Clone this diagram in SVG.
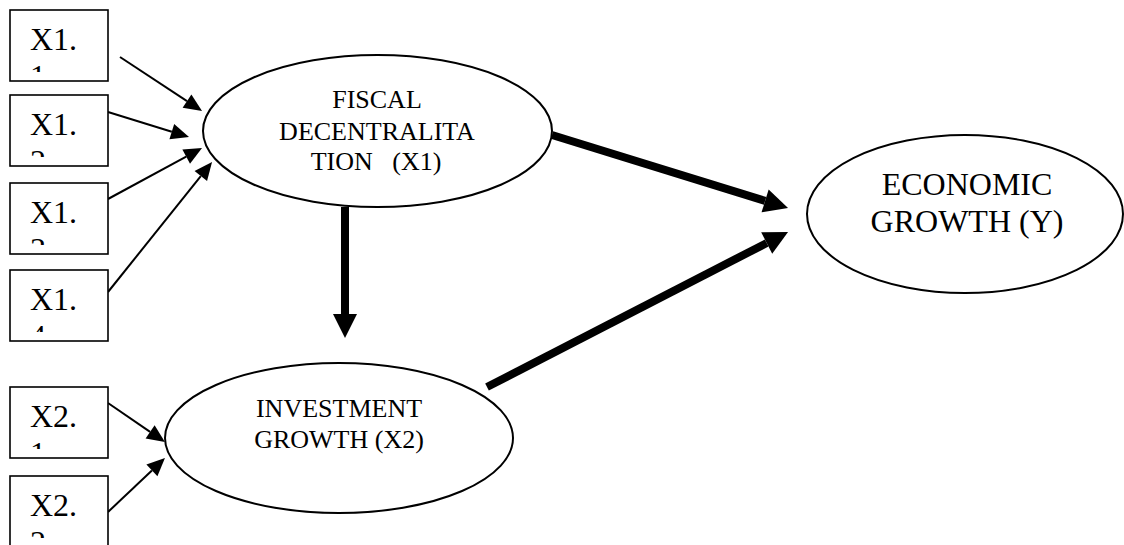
<svg xmlns="http://www.w3.org/2000/svg" width="1124" height="545" viewBox="0 0 1124 545">
  <style>
    .box { fill: #fff; stroke: #000; stroke-width: 1.6; }
    .ell { fill: #fff; stroke: #000; stroke-width: 2; }
    .bt { font-family: "Liberation Serif", "Times New Roman", serif; font-size: 32px; fill: #000; }
    .lt { font-family: "Liberation Serif", "Times New Roman", serif; font-size: 26px; fill: #000; text-anchor: middle; white-space: pre; }
    .yt { font-family: "Liberation Serif", "Times New Roman", serif; font-size: 32px; fill: #000; text-anchor: middle; }
    .thin { stroke: #000; stroke-width: 2; fill: none; marker-end: url(#ah); }
    .thick { stroke: #000; stroke-width: 8; fill: none; marker-end: url(#ahb); }
  </style>
  <defs>
    <clipPath id="bc" clipPathUnits="userSpaceOnUse">
      <rect x="0" y="0" width="98" height="62"/>
    </clipPath>
    <marker id="ah" markerUnits="userSpaceOnUse" markerWidth="18" markerHeight="16" refX="0" refY="8" orient="auto" overflow="visible">
      <path d="M0,0 L18,8 L0,16 z" fill="#000"/>
    </marker>
    <marker id="ahb" markerUnits="userSpaceOnUse" markerWidth="24" markerHeight="24" refX="0" refY="12" orient="auto" overflow="visible">
      <path d="M0,0 L24,12 L0,24 z" fill="#000"/>
    </marker>
  </defs>

  <g id="connectors">
    <line class="thin" x1="120" y1="57" x2="187" y2="101.1"/>
    <line class="thin" x1="108" y1="112" x2="171.8" y2="131.7"/>
    <line class="thin" x1="108" y1="199" x2="186.2" y2="156.6"/>
    <line class="thin" x1="108" y1="292" x2="200.8" y2="176.1"/>
    <line class="thin" x1="108" y1="403" x2="150.1" y2="431.8"/>
    <line class="thin" x1="108" y1="512" x2="151.9" y2="470.4"/>
    <line class="thick" x1="552" y1="135" x2="765.1" y2="200.9"/>
    <line class="thick" x1="345" y1="207" x2="345" y2="314"/>
    <line class="thick" x1="487" y1="387" x2="766.7" y2="243"/>
  </g>

  <g id="x1_1" transform="translate(10,10)">
    <rect class="box" x="0" y="0" width="98" height="71"/>
    <text class="bt" clip-path="url(#bc)"><tspan x="20" y="40">X1.</tspan><tspan x="20" y="77">1</tspan></text>
  </g>
  <g id="x1_2" transform="translate(10,95)">
    <rect class="box" x="0" y="0" width="98" height="71"/>
    <text class="bt" clip-path="url(#bc)"><tspan x="20" y="40">X1.</tspan><tspan x="20" y="77">2</tspan></text>
  </g>
  <g id="x1_3" transform="translate(10,183)">
    <rect class="box" x="0" y="0" width="98" height="71"/>
    <text class="bt" clip-path="url(#bc)"><tspan x="20" y="40">X1.</tspan><tspan x="20" y="77">3</tspan></text>
  </g>
  <g id="x1_4" transform="translate(10,270)">
    <rect class="box" x="0" y="0" width="98" height="71"/>
    <text class="bt" clip-path="url(#bc)"><tspan x="20" y="40">X1.</tspan><tspan x="20" y="77">4</tspan></text>
  </g>
  <g id="x2_1" transform="translate(10,387)">
    <rect class="box" x="0" y="0" width="98" height="71"/>
    <text class="bt" clip-path="url(#bc)"><tspan x="20" y="40">X2.</tspan><tspan x="20" y="77">1</tspan></text>
  </g>
  <g id="x2_2" transform="translate(10,476)">
    <rect class="box" x="0" y="0" width="98" height="71"/>
    <text class="bt" clip-path="url(#bc)"><tspan x="20" y="40">X2.</tspan><tspan x="20" y="77">2</tspan></text>
  </g>

  <g id="fiscal">
    <ellipse class="ell" cx="377.5" cy="131" rx="174.5" ry="76"/>
    <text class="lt"><tspan x="377" y="108">FISCAL</tspan><tspan x="377" y="140">DECENTRALITA</tspan><tspan x="376" y="170">TION   (X1)</tspan></text>
  </g>

  <g id="investment">
    <ellipse class="ell" cx="339" cy="438" rx="174" ry="75"/>
    <text class="lt"><tspan x="339" y="417">INVESTMENT</tspan><tspan x="339" y="448">GROWTH (X2)</tspan></text>
  </g>

  <g id="economic">
    <ellipse class="ell" cx="965" cy="214" rx="158" ry="79"/>
    <text class="yt"><tspan x="967" y="195">ECONOMIC</tspan><tspan x="967" y="232">GROWTH (Y)</tspan></text>
  </g>
</svg>
